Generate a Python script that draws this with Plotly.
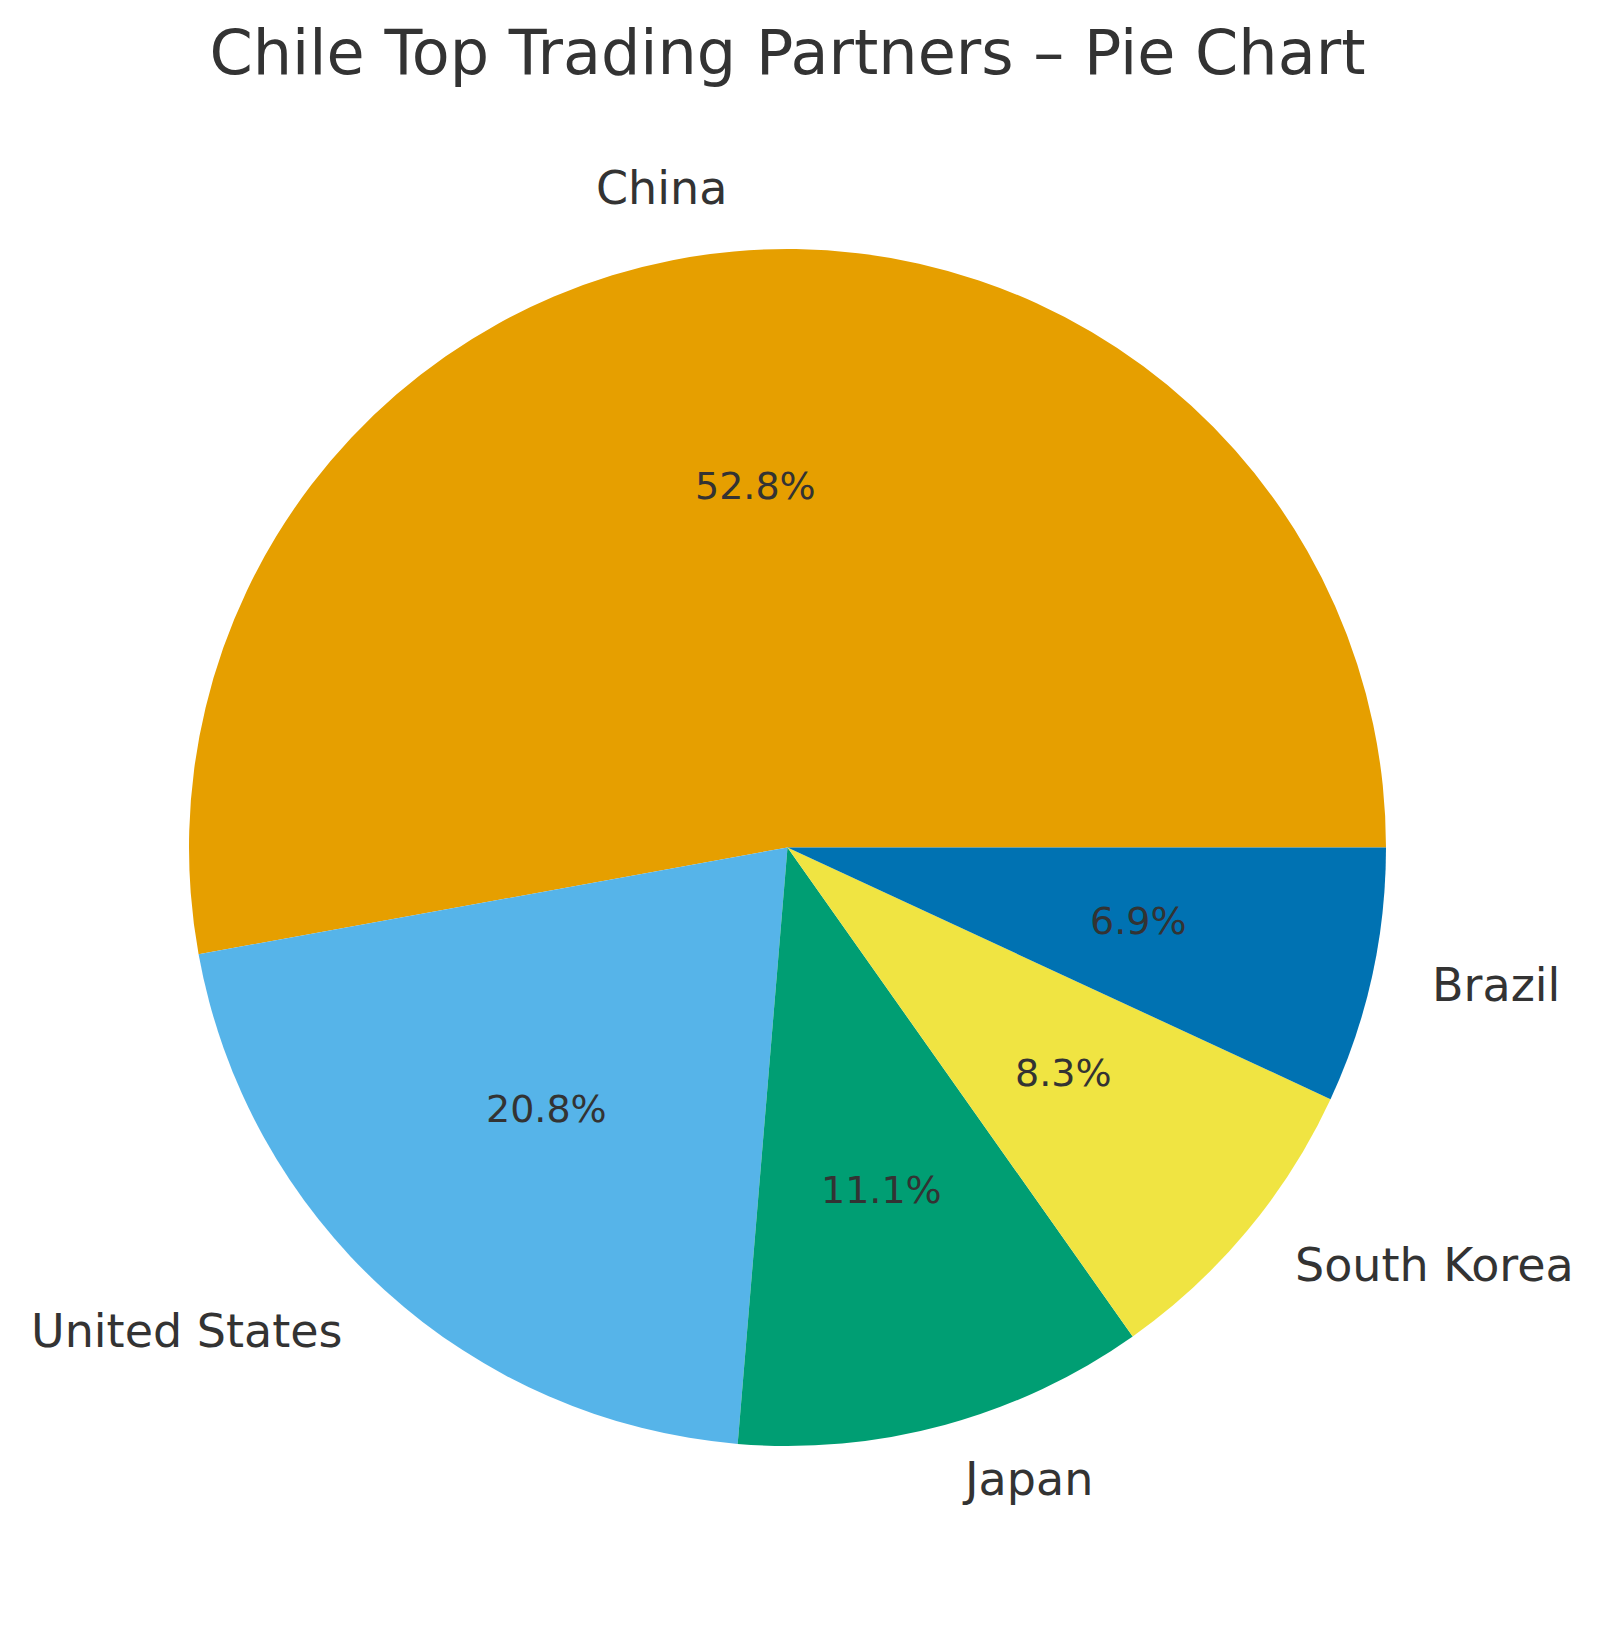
import math
import plotly.graph_objects as go

partners = ["China", "United States", "Japan", "South Korea", "Brazil"]
shares = [52.8, 20.8, 11.1, 8.3, 6.9]
colors = ["#E69F00", "#56B4E9", "#009E73", "#F0E442", "#0072B2"]

# the page body adds an 8px margin, so the figure is 16px smaller
# and every position is measured 8px up/left of the reference
W, H = 1584, 1609
cx, cy, rad = 779.5, 839.5, 598.5
dom_x = [(cx - rad) / W, (cx + rad) / W]
dom_y = [1 - (cy + rad) / H, 1 - (cy - rad) / H]
# text axes are a bit bigger than the pie so the outer labels stay in range
ext = 1.2
ax_x = [(cx - ext * rad) / W, (cx + ext * rad) / W]
ax_y = [1 - (cy + ext * rad) / H, 1 - (cy - ext * rad) / H]
txt = "#333333"
total = sum(shares)

fig = go.Figure()
# plotly counterclockwise pies put the first slice's far edge at `rotation`,
# so shift it so China starts at 3 o'clock like matplotlib does
fig.add_trace(go.Pie(
    labels=partners, values=shares, sort=False,
    direction="counterclockwise", rotation=90 - 360 * shares[0] / total,
    marker=dict(colors=colors, line=dict(width=0)),
    textinfo="none", hoverinfo="label+value",
    showlegend=False, domain=dict(x=dom_x, y=dom_y),
))

# labels at 1.1r and percentages at 0.6r, like the original
start = 0.0
annots = []
for name, v in zip(partners, shares):
    mid = math.radians((start + v / 2) / total * 360)
    start += v
    x, y = math.cos(mid), math.sin(mid)
    annots.append(dict(x=1.1 * x, y=1.1 * y, text=name, showarrow=False,
                       xref="x", yref="y", xanchor="left" if x > 0 else "right",
                       yanchor="middle", yshift=4, font=dict(size=46, color=txt)))
    annots.append(dict(x=0.6 * x, y=0.6 * y, text="%.1f%%" % v, showarrow=False,
                       xref="x", yref="y", xanchor="center", yanchor="middle",
                       yshift=4, font=dict(size=38, color=txt)))

fig.update_layout(
    width=W, height=H,
    margin=dict(l=0, r=0, t=0, b=0),
    paper_bgcolor="white", plot_bgcolor="rgba(0,0,0,0)",
    font=dict(family="DejaVu Sans", color=txt),
    title=dict(text="Chile Top Trading Partners – Pie Chart", x=cx / W, xanchor="center",
               y=1 - 44 / H, yanchor="middle", font=dict(size=62, color=txt)),
    xaxis=dict(domain=ax_x, range=[-ext, ext], visible=False, fixedrange=True),
    yaxis=dict(domain=ax_y, range=[-ext, ext], visible=False, fixedrange=True),
    annotations=annots,
)

fig.write_html("out.html")
